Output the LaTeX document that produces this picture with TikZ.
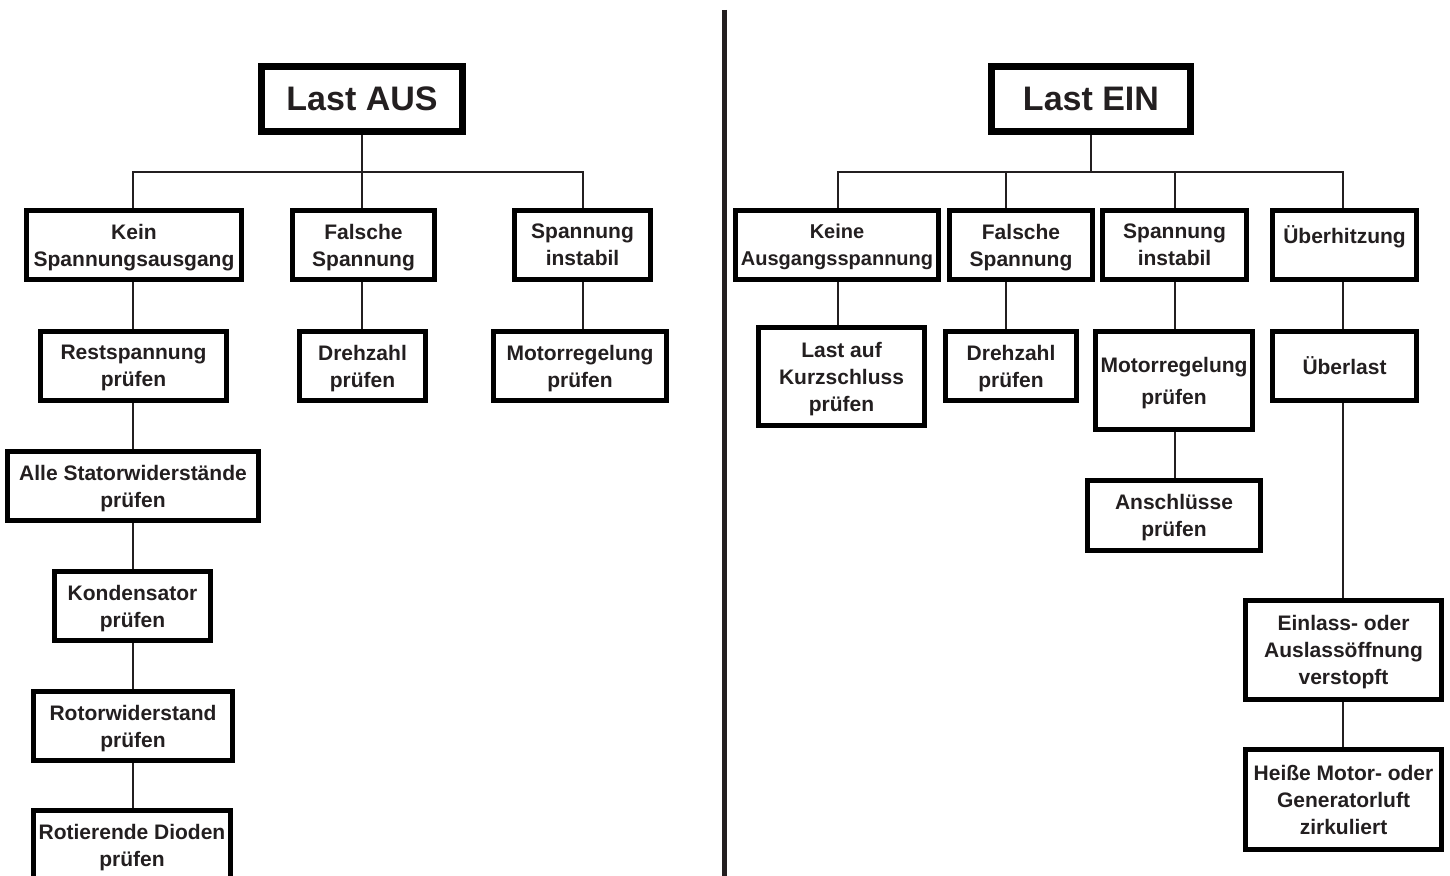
\documentclass[tikz,border=0pt]{standalone}
\usepackage{fontspec}
\setmainfont{Liberation Sans}
\definecolor{ink}{HTML}{231F20}
\begin{document}
\begin{tikzpicture}[x=1pt,y=-1pt,
  bx/.style={draw=black, line width=5pt, fill=white, align=center, inner sep=0pt,
    text depth=0pt, font=\fontsize{21}{27}\selectfont\bfseries, text=ink, minimum height=69pt},
  tall/.style={minimum height=98pt},
  ttl/.style={bx, line width=7pt, font=\fontsize{34}{40}\selectfont\bfseries, minimum height=65pt},
  conn/.style={draw=ink, line width=2pt},
  divider/.style={draw=ink, line width=4.5pt},
  ]
\useasboundingbox (0,0) rectangle (1450,875);
\clip (0,0) rectangle (1450,875);

% column coordinates
\coordinate (xL) at (132.5,0);
\coordinate (xA) at (838,0);
\coordinate (xB) at (1006,0);
\coordinate (xC) at (1175,0);
\coordinate (xD) at (1343,0);
\coordinate (hL) at (0,172);
\coordinate (hR) at (0,172);

% divider
\draw[divider] (724.5,10) -- (724.5,876);

% ---------- Last AUS ----------
\node[ttl, minimum width=201pt] (tL) at (362,99) {Last AUS};
\node[bx, minimum width=215pt] (k1) at (134,245) {Kein\\Spannungsausgang};
\node[bx, minimum width=142pt] (k2) at (363.5,245) {Falsche\\Spannung};
\node[bx, minimum width=136pt] (k3) at (582.5,245) {Spannung\\instabil};
\node[bx, minimum width=186pt] (l1) at (133.5,366) {Restspannung\\prüfen};
\node[bx, minimum width=126pt] (l2) at (362.5,366) {Drehzahl\\prüfen};
\node[bx, minimum width=173pt] (l3) at (580,366) {Motorregelung\\prüfen};
\node[bx, minimum width=251pt] (m1) at (133,486) {Alle Statorwiderstände\\prüfen};
\node[bx, minimum width=156pt] (m2) at (132.5,606) {Kondensator\\prüfen};
\node[bx, minimum width=199pt] (m3) at (133,726) {Rotorwiderstand\\prüfen};
\node[bx, minimum width=197pt] (m4) at (132,845) {Rotierende Dioden\\prüfen};

\draw[conn] (tL.south) -- (tL.south |- hL);
\draw[conn] (xL |- k1.north) -- (xL |- hL) -- (k3.north |- hL) -- (k3.north);
\draw[conn] (tL.south |- k2.north) -- (tL.south |- hL);
\draw[conn] (xL |- k1.south) -- (xL |- l1.north);
\draw[conn] (tL.south |- k2.south) -- (tL.south |- l2.north);
\draw[conn] (k3.south) -- (k3.south |- l3.north);
\draw[conn] (xL |- l1.south) -- (xL |- m1.north);
\draw[conn] (xL |- m1.south) -- (xL |- m2.north);
\draw[conn] (xL |- m2.south) -- (xL |- m3.north);
\draw[conn] (xL |- m3.south) -- (xL |- m4.north);

% ---------- Last EIN ----------
\node[ttl, minimum width=199pt] (tR) at (1091,99) {Last EIN};
\node[bx, minimum width=203pt, font=\fontsize{20}{27}\selectfont\bfseries] (r1) at (837,245) {Keine\\Ausgangsspannung};
\node[bx, minimum width=143pt] (r2) at (1021,245) {Falsche\\Spannung};
\node[bx, minimum width=144pt] (r3) at (1174.5,245) {Spannung\\instabil};
\node[bx, minimum width=144pt, text depth=20pt] (r4) at (1344.5,245) {Überhitzung};
\node[bx, tall, minimum width=166pt] (s1) at (841.5,376.5) {Last auf\\Kurzschluss\\prüfen};
\node[bx, minimum width=131pt] (s2) at (1011,366) {Drehzahl\\prüfen};
\node[bx, tall, minimum width=157pt] (s3) at (1174,380.5) {Motorregelung\\[5pt]prüfen};
\node[bx, minimum width=144pt] (s4) at (1344.5,366) {Überlast};
\node[bx, minimum width=173pt, minimum height=70pt] (t3) at (1174,515.5) {Anschlüsse\\prüfen};
\node[bx, minimum width=196pt, minimum height=99pt] (u4) at (1343.5,650) {Einlass- oder\\Auslassöffnung\\verstopft};
\node[bx, minimum width=196pt, minimum height=100pt] (v4) at (1343.5,799.5) {Heiße Motor- oder\\Generatorluft\\zirkuliert};

\draw[conn] (tR.south) -- (tR.south |- hR);
\draw[conn] (xA |- r1.north) -- (xA |- hR) -- (xD |- hR) -- (xD |- r4.north);
\draw[conn] (xB |- r2.north) -- (xB |- hR);
\draw[conn] (xC |- r3.north) -- (xC |- hR);
\draw[conn] (xA |- r1.south) -- (xA |- s1.north);
\draw[conn] (xB |- r2.south) -- (xB |- s2.north);
\draw[conn] (xC |- r3.south) -- (xC |- s3.north);
\draw[conn] (xD |- r4.south) -- (xD |- s4.north);
\draw[conn] (xC |- s3.south) -- (xC |- t3.north);
\draw[conn] (xD |- s4.south) -- (xD |- u4.north);
\draw[conn] (xD |- u4.south) -- (xD |- v4.north);
\end{tikzpicture}
\end{document}
